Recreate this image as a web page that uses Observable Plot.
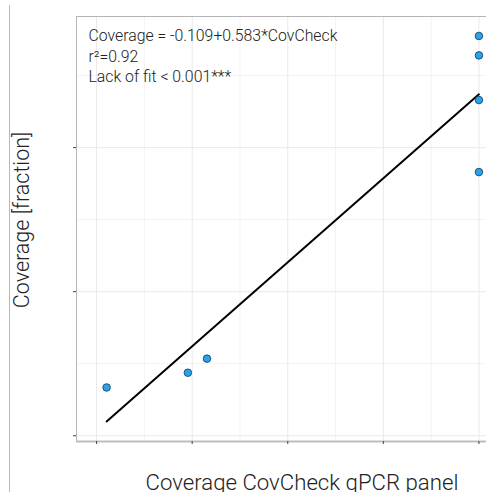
<!DOCTYPE html>
<html>
<head>
<meta charset="utf-8">
<script src="https://cdn.jsdelivr.net/npm/d3@7"></script>
<script src="https://cdn.jsdelivr.net/npm/@observablehq/plot@0.6"></script>
<style>
  html, body { margin: 0; padding: 0; background: #fff; overflow: hidden; }
  #wrap { position: relative; width: 486px; height: 492px; overflow: hidden; }
  #edge { position: absolute; left: 9px; top: 5px; bottom: 0; width: 1px; background: #b8b8b8; }
  #chart { position: absolute; left: 0; top: 0; width: 540px; height: 492px; }
  #chart svg { max-width: none !important; width: 540px; height: 492px; }
</style>
</head>
<body>
<div id="wrap"><div id="chart"></div><div id="edge"></div></div>
<script>
// Data
const covCheck = [0.221, 0.391, 0.431, 1.0, 1.0, 1.0, 1.0];
const coverage = [0.067, 0.0875, 0.107, 0.555, 0.528, 0.466, 0.366];
const fitIntercept = -0.109;
const fitSlope = 0.583;
const annotationLines = ["Coverage = -0.109+0.583*CovCheck", "r²=0.92", "Lack of fit < 0.001***"];
const xTitle = "Coverage CovCheck qPCR panel";
const yTitle = "Coverage [fraction]";
const xTicks = [0.2, 0.4, 0.6, 0.8, 1.0];
const xMinor = [0.3, 0.5, 0.7, 0.9, 1.1];
const yTicks = [0.0, 0.2, 0.4];
const yMinor = [0.1, 0.3, 0.5];
const xDomain = [0.158, 1.11];
const yDomain = [-0.008, 0.582];

const points = covCheck.map((x, i) => ({x, y: coverage[i]}));
const xr = d3.extent(covCheck);
const fitLine = xr.map(x => ({x, y: fitIntercept + fitSlope * x}));

const textColor = "#222";
const plot = Plot.plot({
  width: 540,
  height: 492,
  marginLeft: 76,
  marginRight: 9,
  marginTop: 16,
  marginBottom: 51,
  style: {fontFamily: "Roboto, 'Noto Sans', sans-serif", background: "#fff", overflow: "visible"},
  x: {domain: xDomain},
  y: {domain: yDomain},
  marks: [
    Plot.gridX(xMinor, {stroke: "#f3f3f3", strokeOpacity: 1, strokeWidth: 1}),
    Plot.gridY(yMinor, {stroke: "#f3f3f3", strokeOpacity: 1, strokeWidth: 1}),
    Plot.gridX(xTicks, {stroke: "#e9e9e9", strokeOpacity: 1, strokeWidth: 1}),
    Plot.gridY(yTicks, {stroke: "#e9e9e9", strokeOpacity: 1, strokeWidth: 1}),
    Plot.ruleY([yDomain[1]], {stroke: "#b5b5b5", strokeWidth: 1}),
    Plot.ruleX([xDomain[0]], {stroke: "#b5b5b5", strokeWidth: 1}),
    Plot.ruleY([yDomain[0]], {stroke: "#bdbdbd", strokeWidth: 2}),
    Plot.axisX(xTicks, {tickFormat: () => "", tickSize: 3, stroke: "#444", label: null}),
    Plot.axisY(yTicks, {tickFormat: () => "", tickSize: 3, stroke: "#444", label: null}),
    Plot.line(fitLine, {x: "x", y: "y", stroke: "#000", strokeWidth: 2}),
    Plot.dot(points, {x: "x", y: "y", r: 3.8, fill: "#25a3ec", stroke: "#1b3550", strokeWidth: 0.8}),
    Plot.text([annotationLines.join("\n")], {
      frameAnchor: "top-left", textAnchor: "start", lineAnchor: "top",
      dx: 12, dy: 10, fontSize: 15.8, lineHeight: 1.3, fill: textColor, fontWeight: 300
    }),
    Plot.text([xTitle], {
      frameAnchor: "bottom", textAnchor: "middle", lineAnchor: "bottom",
      dy: 48, dx: -2, fontSize: 22.2, fill: textColor, fontWeight: 300
    }),
    Plot.text([yTitle], {
      frameAnchor: "left", textAnchor: "middle", lineAnchor: "top",
      rotate: -90, dx: -63, dy: -9, fontSize: 21.5, fill: textColor, fontWeight: 300
    })
  ]
});
document.getElementById("chart").appendChild(plot);
</script>
</body>
</html>
